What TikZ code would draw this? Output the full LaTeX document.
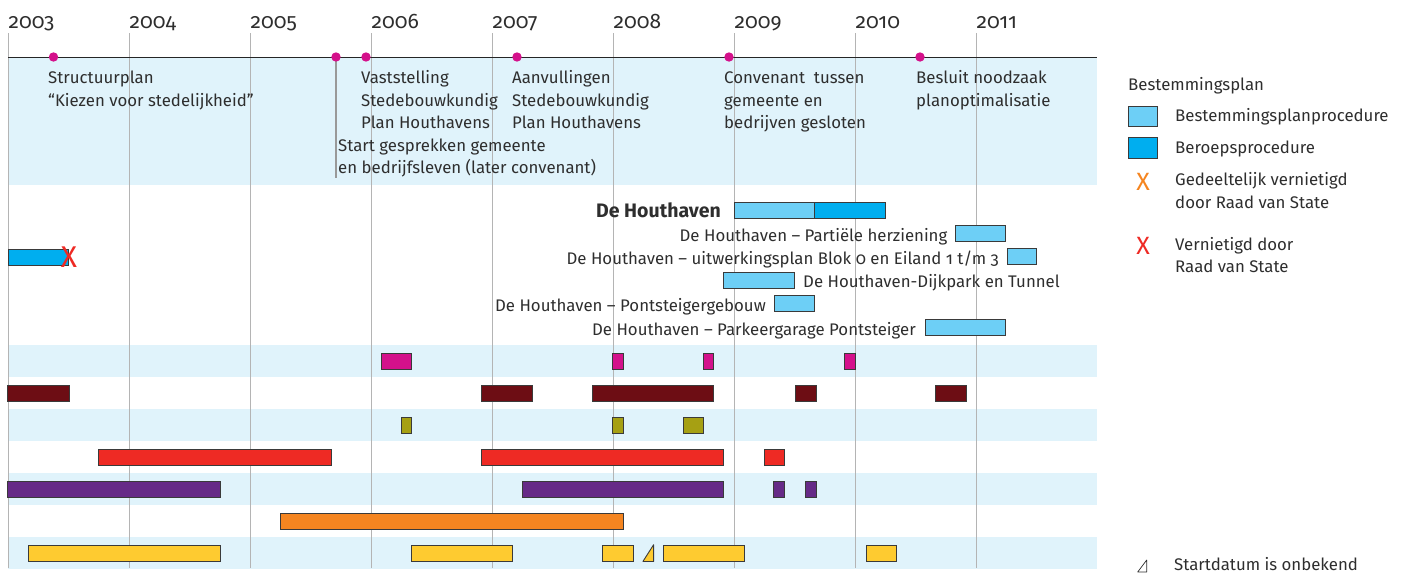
\documentclass[tikz,border=0pt]{standalone}
\usepackage{fontspec}
\setmainfont{Fira Sans}[Numbers=OldStyle]
\definecolor{bandblue}{HTML}{E0F3FB}
\definecolor{gridc}{HTML}{B4B4B4}
\definecolor{txt}{HTML}{2E2E2E}
\definecolor{mag}{HTML}{D4118B}
\definecolor{lblue}{HTML}{6DCFF6}
\definecolor{dblue}{HTML}{00AEEF}
\definecolor{dred}{HTML}{6D0D14}
\definecolor{olive}{HTML}{A6A013}
\definecolor{redc}{HTML}{EE2A24}
\definecolor{purp}{HTML}{662A87}
\definecolor{oran}{HTML}{F58520}
\definecolor{yell}{HTML}{FECB30}
\definecolor{barline}{HTML}{3A3A3A}
\newcommand\bodyfont{\fontsize{16.8}{22}\selectfont}
\newcommand\yearfont{\fontsize{21}{24}\selectfont}
\newcommand\rowbar[4]{\draw[gbar,fill=#4] (#1,{321.5+32*#3}) rectangle (#2,{337.5+32*#3});}
\begin{document}
\begin{tikzpicture}[x=1pt,y=-1pt,
  lbl/.style={inner sep=0pt,text=txt,font=\bodyfont},
  lw/.style={lbl,anchor=base west},
  le/.style={lbl,anchor=base east},
  yr/.style={inner sep=0pt,text=txt,font=\yearfont,anchor=base west},
  gbar/.style={draw=barline,line width=0.9pt},
  gridl/.style={draw=gridc,line width=1pt},
  dot/.style={circle,fill=mag,inner sep=0pt,minimum size=9.4pt},
  xmark/.style={inner sep=0pt},
]
\useasboundingbox (0,0) rectangle (1406,574);
% bands
\fill[bandblue] (8,57) rectangle (1097,185);
\foreach \y in {345,409,473,537} \fill[bandblue] (8,\y) rectangle (1097,\y+32);
% grid lines
\foreach \i in {0,...,8} \draw[gridl] (8+121*\i,33) -- (8+121*\i,568);
% year labels
\foreach \x/\t in {8/2003,129/2004,250/2005,371/2006,492/2007,613/2008,734/2009,855/2010,976/2011}
  \node[yr] (y\t) at (\x+0.5,28.5) {\t};
% axis
\coordinate (a0) at (8,57);
\coordinate (a1) at (1097,57);
\draw[black!85,line width=1pt] (a0) -- (a1);
\coordinate (p2) at (336,57);
\coordinate (p2end) at (336,178);
\draw[black!40,line width=1.4pt] (p2) -- (p2end);
\node[dot] (d1) at (53.5,57) {};
\node[dot] (d2) at (p2) {};
\node[dot] (d3) at (366,57) {};
\node[dot] (d4) at (517,57) {};
\node[dot] (d5) at (729,57) {};
\node[dot] (d6) at (920,57) {};
% top texts
\node[lw] (s1) at (48,83.5) {Structuurplan};
\node[lw] (s2) at (48,106) {“Kiezen voor stedelijkheid\char34};
\node[lw] (v1) at (361,83.5) {Vaststelling};
\node[lw] (v2) at (361,106) {Stedebouwkundig};
\node[lw] (v3) at (361,128.5) {Plan Houthavens};
\node[lw] (g1) at (338,151) {Start gesprekken gemeente};
\node[lw] (g2) at (338,173.5) {en bedrijfsleven (later convenant)};
\node[lw] (u1) at (512,83.5) {Aanvullingen};
\node[lw] (u2) at (512,106) {Stedebouwkundig};
\node[lw] (u3) at (512,128.5) {Plan Houthavens};
\node[lw] (c1) at (724,83.5) {Convenant\ \ tussen};
\node[lw] (c2) at (724,106) {gemeente en};
\node[lw] (c3) at (724,128.5) {bedrijven gesloten};
\node[lw] (b1) at (916,83.5) {Besluit noodzaak};
\node[lw] (b2) at (916,106) {planoptimalisatie};
% Houthaven bars
\fill[lblue] (734,202) rectangle (814.5,218);
\fill[dblue] (814.5,202) rectangle (885,218);
\draw[gbar] (734,202) rectangle (885,218);
\draw[gbar] (814.5,202) -- (814.5,218);
\node[le,font=\fontsize{19.5}{22}\selectfont\bfseries] (h0) at (721,217) {De Houthaven};
\draw[gbar,fill=lblue] (955.7,225.5) rectangle (1005.8,241.5);
\node[le] (h1) at (947.5,241) {De Houthaven – Partiële herziening};
\draw[gbar,fill=lblue] (1007,248.5) rectangle (1036,264.5);
\node[le] (h2) at (999,264) {De Houthaven – uitwerkingsplan Blok 0 en Eiland 1 t/m 3};
\draw[gbar,fill=lblue] (723.8,272) rectangle (794.6,288);
\node[lw] (h3) at (803,287.5) {De Houthaven-Dijkpark en Tunnel};
\draw[gbar,fill=lblue] (774.7,295.5) rectangle (814.5,311.5);
\node[le] (h4) at (766,311) {De Houthaven – Pontsteigergebouw};
\draw[gbar,fill=lblue] (925.8,319.5) rectangle (1005.8,335.5);
\node[le] (h5) at (916,335) {De Houthaven – Parkeergarage Pontsteiger};
% left bar with X
\draw[gbar,fill=dblue] (8,249.3) rectangle (68.7,265.3);
\node[xmark,text=redc,font=\fontsize{30}{30}\selectfont] (x0) at (69,257) {X};
% rows
\rowbar{381.4}{411.8}{1}{mag}
\rowbar{612.9}{623.6}{1}{mag}
\rowbar{703.2}{713.9}{1}{mag}
\rowbar{844.3}{855}{1}{mag}
\rowbar{7.9}{69.3}{2}{dred}
\rowbar{481.8}{532.5}{2}{dred}
\rowbar{592.5}{713.9}{2}{dred}
\rowbar{795.4}{816}{2}{dred}
\rowbar{935.4}{966}{2}{dred}
\rowbar{401.4}{411.8}{3}{olive}
\rowbar{612.9}{623.6}{3}{olive}
\rowbar{683.2}{703.9}{3}{olive}
\rowbar{98.9}{331}{4}{redc}
\rowbar{481.8}{723.9}{4}{redc}
\rowbar{764}{784.6}{4}{redc}
\rowbar{7.9}{220.4}{5}{purp}
\rowbar{522.1}{723.9}{5}{purp}
\rowbar{773.6}{784.6}{5}{purp}
\rowbar{805.4}{816}{5}{purp}
\rowbar{280.4}{623.6}{6}{oran}
\rowbar{28.2}{220.4}{7}{yell}
\rowbar{411.4}{512.5}{7}{yell}
\rowbar{602.9}{633.6}{7}{yell}
\rowbar{663.2}{744.3}{7}{yell}
\rowbar{866.4}{896.8}{7}{yell}
\draw[gbar,fill=yell,line join=round] (642.9,561.5) -- (653.6,561.5) -- (653.6,544.7) -- cycle;
% legend
\node[lw] (L0) at (1128,90) {Bestemmingsplan};
\draw[gbar,fill=lblue] (1128,106) rectangle (1157,126.5);
\node[lw] (L1) at (1175,121.5) {Bestemmingsplanprocedure};
\draw[gbar,fill=dblue] (1128,137.5) rectangle (1157,158.5);
\node[lw] (L2) at (1175,153.5) {Beroepsprocedure};
\node[xmark,text=oran,font=\fontsize{25}{25}\selectfont] (L3x) at (1143,182) {X};
\node[lw] (L3a) at (1175,185) {Gedeeltelijk vernietigd};
\node[lw] (L3b) at (1175,208.3) {door Raad van State};
\node[xmark,text=redc,font=\fontsize{25}{25}\selectfont] (L4x) at (1143,246) {X};
\node[lw] (L4a) at (1175,250) {Vernietigd door};
\node[lw] (L4b) at (1175,272.5) {Raad van State};
\draw[txt,line width=0.7pt,line join=round] (1137.7,572) -- (1146.7,572) -- (1146.7,560) -- cycle;
\node[lw] (L5) at (1174,570) {Startdatum is onbekend};
\end{tikzpicture}
\end{document}
